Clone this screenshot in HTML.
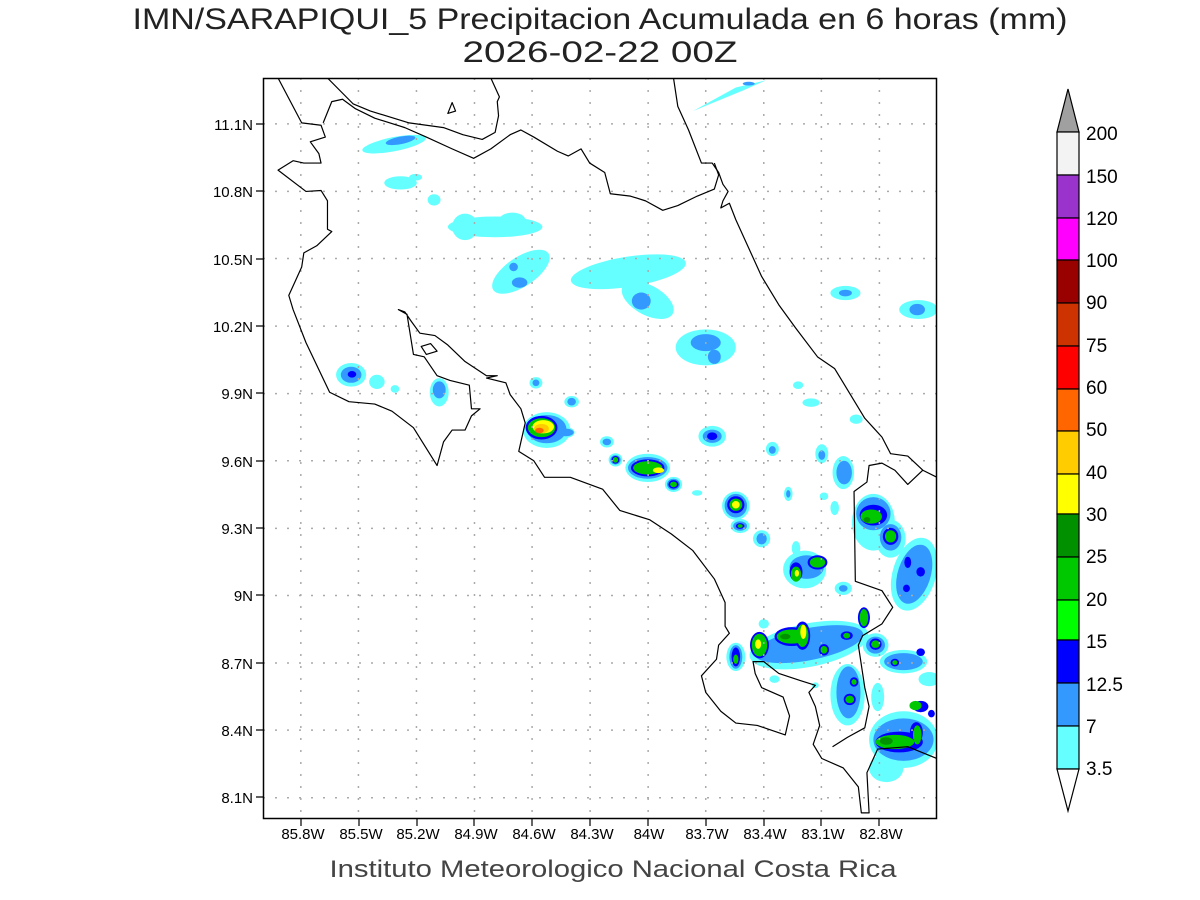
<!DOCTYPE html>
<html><head><meta charset="utf-8"><style>html,body{margin:0;padding:0;background:#fff}svg{display:block}</style></head>
<body>
<svg width="1200" height="900" xmlns="http://www.w3.org/2000/svg" font-family="Liberation Sans, sans-serif">
<rect width="1200" height="900" fill="#fff"/>
<text x="600" y="29" font-size="30" text-anchor="middle" fill="#222" textLength="935" lengthAdjust="spacingAndGlyphs">IMN/SARAPIQUI_5 Precipitacion Acumulada en 6 horas (mm)</text>
<text x="600" y="62" font-size="30" text-anchor="middle" fill="#222" textLength="275" lengthAdjust="spacingAndGlyphs">2026-02-22 00Z</text>
<text x="613" y="877" font-size="24" text-anchor="middle" fill="#444" textLength="567" lengthAdjust="spacingAndGlyphs">Instituto Meteorologico Nacional Costa Rica</text>

<svg x="263" y="78" width="674" height="741" viewBox="0 0 1568 1568" preserveAspectRatio="none">
<g>
<g fill="#66ffff">
<polygon points="1000,70 1100,20 1170,5 1120,25 1040,55"/>
<ellipse cx="305" cy="140" rx="75" ry="15" transform="rotate(-10 305 140)"/>
<ellipse cx="320" cy="222" rx="38" ry="14"/><ellipse cx="355" cy="210" rx="15" ry="7"/>
<ellipse cx="398" cy="258" rx="15" ry="12"/>
<ellipse cx="540" cy="315" rx="110" ry="22"/><ellipse cx="470" cy="315" rx="30" ry="28"/><ellipse cx="580" cy="300" rx="30" ry="15"/>
<ellipse cx="600" cy="410" rx="75" ry="32" transform="rotate(-30 600 410)"/>
<ellipse cx="850" cy="410" rx="135" ry="32" transform="rotate(-8 850 410)"/><ellipse cx="895" cy="470" rx="65" ry="32" transform="rotate(25 895 470)"/>
<ellipse cx="1030" cy="570" rx="70" ry="38"/>
<ellipse cx="1355" cy="455" rx="35" ry="15"/>
<ellipse cx="1525" cy="490" rx="45" ry="20"/>
<ellipse cx="205" cy="628" rx="35" ry="25"/><ellipse cx="265" cy="643" rx="18" ry="15"/><ellipse cx="307" cy="658" rx="10" ry="8"/>
<ellipse cx="410" cy="665" rx="22" ry="30"/>
<ellipse cx="635" cy="645" rx="15" ry="12"/><ellipse cx="718" cy="685" rx="17" ry="12"/>
<ellipse cx="660" cy="745" rx="55" ry="38"/><ellipse cx="700" cy="750" rx="25" ry="12"/>
<ellipse cx="800" cy="770" rx="16" ry="12"/><ellipse cx="820" cy="808" rx="16" ry="14"/>
<ellipse cx="895" cy="825" rx="52" ry="30"/><ellipse cx="955" cy="860" rx="20" ry="16"/>
<ellipse cx="1010" cy="878" rx="12" ry="6"/>
<ellipse cx="1045" cy="758" rx="32" ry="22"/>
<ellipse cx="1100" cy="905" rx="32" ry="30"/><ellipse cx="1110" cy="948" rx="22" ry="15"/><ellipse cx="1160" cy="975" rx="20" ry="18"/>
<ellipse cx="1185" cy="785" rx="15" ry="15"/><ellipse cx="1245" cy="650" rx="12" ry="8"/><ellipse cx="1275" cy="687" rx="20" ry="9"/>
<ellipse cx="1300" cy="795" rx="15" ry="20"/><ellipse cx="1350" cy="835" rx="25" ry="35"/>
<ellipse cx="1222" cy="880" rx="10" ry="15"/><ellipse cx="1330" cy="910" rx="10" ry="15"/><ellipse cx="1305" cy="885" rx="10" ry="8"/>
<ellipse cx="1380" cy="722" rx="15" ry="10"/><ellipse cx="1240" cy="995" rx="10" ry="15"/>
<ellipse cx="1260" cy="1040" rx="50" ry="40"/>
<ellipse cx="1420" cy="940" rx="50" ry="60"/><ellipse cx="1460" cy="975" rx="35" ry="40"/>
<ellipse cx="1515" cy="1050" rx="50" ry="80" transform="rotate(20 1515 1050)"/>
<ellipse cx="1350" cy="1080" rx="20" ry="14"/>
<ellipse cx="1270" cy="1200" rx="140" ry="46" transform="rotate(-10 1270 1200)"/>
<ellipse cx="1100" cy="1225" rx="22" ry="30"/><ellipse cx="1165" cy="1155" rx="12" ry="10"/>
<ellipse cx="1425" cy="1200" rx="30" ry="25"/>
<ellipse cx="1360" cy="1305" rx="40" ry="65"/>
<ellipse cx="1190" cy="1272" rx="12" ry="8"/><ellipse cx="1285" cy="1285" rx="8" ry="6"/>
<ellipse cx="1430" cy="1310" rx="15" ry="30"/>
<ellipse cx="1490" cy="1235" rx="55" ry="25"/><ellipse cx="1550" cy="1272" rx="25" ry="15"/>
<ellipse cx="1490" cy="1400" rx="80" ry="60"/><ellipse cx="1450" cy="1460" rx="40" ry="30"/>
</g>
<g fill="#3399ff">
<ellipse cx="1130" cy="12" rx="14" ry="4"/>
<ellipse cx="320" cy="132" rx="35" ry="8" transform="rotate(-10 320 132)"/>
<ellipse cx="583" cy="400" rx="10" ry="9"/><ellipse cx="597" cy="433" rx="18" ry="11"/>
<ellipse cx="880" cy="472" rx="22" ry="18"/>
<ellipse cx="1030" cy="560" rx="35" ry="18"/><ellipse cx="1050" cy="590" rx="15" ry="15"/>
<ellipse cx="1355" cy="455" rx="15" ry="7"/><ellipse cx="1522" cy="490" rx="18" ry="12"/>
<ellipse cx="205" cy="628" rx="24" ry="17"/><ellipse cx="410" cy="660" rx="15" ry="18"/>
<ellipse cx="635" cy="645" rx="8" ry="7"/><ellipse cx="718" cy="685" rx="10" ry="8"/>
<ellipse cx="660" cy="743" rx="46" ry="30"/><ellipse cx="705" cy="750" rx="18" ry="8"/>
<ellipse cx="800" cy="770" rx="10" ry="7"/><ellipse cx="820" cy="808" rx="12" ry="10"/>
<ellipse cx="895" cy="825" rx="46" ry="23"/><ellipse cx="955" cy="860" rx="15" ry="12"/>
<ellipse cx="1045" cy="758" rx="22" ry="14"/>
<ellipse cx="1100" cy="905" rx="26" ry="25"/><ellipse cx="1110" cy="948" rx="16" ry="10"/><ellipse cx="1160" cy="975" rx="12" ry="12"/>
<ellipse cx="1185" cy="787" rx="8" ry="8"/><ellipse cx="1300" cy="798" rx="8" ry="10"/><ellipse cx="1352" cy="835" rx="18" ry="25"/>
<ellipse cx="1222" cy="880" rx="5" ry="8"/>
<ellipse cx="1265" cy="1035" rx="40" ry="25"/>
<ellipse cx="1420" cy="922" rx="40" ry="35"/><ellipse cx="1460" cy="972" rx="25" ry="28"/>
<ellipse cx="1515" cy="1050" rx="38" ry="65" transform="rotate(20 1515 1050)"/>
<ellipse cx="1350" cy="1080" rx="10" ry="7"/>
<ellipse cx="1270" cy="1198" rx="128" ry="34" transform="rotate(-10 1270 1198)"/>
<ellipse cx="1100" cy="1225" rx="15" ry="25"/>
<ellipse cx="1425" cy="1200" rx="22" ry="18"/>
<ellipse cx="1362" cy="1300" rx="28" ry="55"/>
<ellipse cx="1490" cy="1235" rx="45" ry="18"/>
<ellipse cx="1490" cy="1400" rx="70" ry="45"/>
</g>
<g fill="#0000ff">
<ellipse cx="207" cy="627" rx="10" ry="7"/>
<ellipse cx="648" cy="740" rx="37" ry="25"/>
<ellipse cx="820" cy="808" rx="9" ry="8"/>
<ellipse cx="895" cy="825" rx="39" ry="18"/><ellipse cx="955" cy="860" rx="12" ry="9"/>
<ellipse cx="1045" cy="758" rx="12" ry="8"/>
<ellipse cx="1100" cy="903" rx="20" ry="18"/><ellipse cx="1110" cy="948" rx="10" ry="6"/>
<ellipse cx="1240" cy="1045" rx="15" ry="20"/><ellipse cx="1290" cy="1025" rx="23" ry="15"/>
<ellipse cx="1420" cy="925" rx="32" ry="22"/><ellipse cx="1460" cy="970" rx="18" ry="18"/>
<ellipse cx="1500" cy="1025" rx="8" ry="12"/><ellipse cx="1530" cy="1045" rx="10" ry="10"/><ellipse cx="1497" cy="1080" rx="8" ry="8"/>
<ellipse cx="1155" cy="1200" rx="22" ry="28"/><ellipse cx="1230" cy="1182" rx="40" ry="20"/><ellipse cx="1255" cy="1180" rx="18" ry="30"/>
<ellipse cx="1305" cy="1210" rx="12" ry="12"/><ellipse cx="1358" cy="1180" rx="14" ry="9"/><ellipse cx="1398" cy="1142" rx="14" ry="22"/>
<ellipse cx="1100" cy="1225" rx="10" ry="20"/><ellipse cx="1425" cy="1198" rx="14" ry="12"/>
<ellipse cx="1375" cy="1278" rx="10" ry="10"/><ellipse cx="1365" cy="1315" rx="14" ry="12"/>
<ellipse cx="1470" cy="1237" rx="10" ry="8"/><ellipse cx="1530" cy="1215" rx="10" ry="8"/>
<ellipse cx="1480" cy="1405" rx="55" ry="22"/><ellipse cx="1520" cy="1385" rx="15" ry="22"/><ellipse cx="1530" cy="1330" rx="18" ry="12"/><ellipse cx="1555" cy="1345" rx="8" ry="8"/>
</g>
<g fill="#00c800">
<ellipse cx="648" cy="740" rx="32" ry="20"/>
<ellipse cx="820" cy="808" rx="6" ry="6"/>
<ellipse cx="895" cy="825" rx="34" ry="14"/><ellipse cx="955" cy="860" rx="8" ry="6"/>
<ellipse cx="1100" cy="903" rx="15" ry="13"/><ellipse cx="1110" cy="948" rx="6" ry="4"/>
<ellipse cx="1240" cy="1050" rx="12" ry="16"/><ellipse cx="1290" cy="1025" rx="18" ry="11"/>
<ellipse cx="1415" cy="928" rx="25" ry="15"/><ellipse cx="1460" cy="970" rx="13" ry="13"/>
<ellipse cx="1155" cy="1200" rx="18" ry="24"/><ellipse cx="1230" cy="1182" rx="35" ry="15"/><ellipse cx="1255" cy="1180" rx="14" ry="24"/>
<ellipse cx="1305" cy="1210" rx="8" ry="8"/><ellipse cx="1358" cy="1180" rx="8" ry="6"/><ellipse cx="1398" cy="1142" rx="10" ry="18"/>
<ellipse cx="1100" cy="1230" rx="6" ry="10"/><ellipse cx="1425" cy="1198" rx="10" ry="8"/>
<ellipse cx="1375" cy="1278" rx="6" ry="6"/><ellipse cx="1365" cy="1315" rx="10" ry="8"/>
<ellipse cx="1470" cy="1237" rx="6" ry="5"/>
<ellipse cx="1470" cy="1405" rx="45" ry="15"/><ellipse cx="1522" cy="1390" rx="10" ry="20"/><ellipse cx="1518" cy="1328" rx="14" ry="10"/>
</g>
<g fill="#009000">
<ellipse cx="1405" cy="935" rx="8" ry="6"/><ellipse cx="1450" cy="1403" rx="15" ry="8"/><ellipse cx="1215" cy="1182" rx="12" ry="6"/>
</g>
<g fill="#ffff00">
<ellipse cx="652" cy="738" rx="25" ry="14"/>
<ellipse cx="920" cy="830" rx="13" ry="6"/>
<ellipse cx="1100" cy="903" rx="9" ry="8"/>
<ellipse cx="1242" cy="1048" rx="5" ry="7"/>
<ellipse cx="1152" cy="1198" rx="7" ry="10"/>
<ellipse cx="1257" cy="1172" rx="7" ry="15"/>
</g>
<ellipse cx="648" cy="742" rx="17" ry="10" fill="#ffcc00"/>
<ellipse cx="643" cy="746" rx="10" ry="6" fill="#ff6600"/>
</g>
<g stroke="#aaa" stroke-width="1.5" stroke-dasharray="2 10" fill="none">
<path vector-effect="non-scaling-stroke" d="M88,0V1568M222,0V1568M357,0V1568M492,0V1568M626,0V1568M761,0V1568M896,0V1568M1030,0V1568M1165,0V1568M1299,0V1568M1434,0V1568"/>
<path vector-effect="non-scaling-stroke" d="M0,97H1568M0,240H1568M0,382H1568M0,525H1568M0,668H1568M0,810H1568M0,953H1568M0,1095H1568M0,1238H1568M0,1380H1568M0,1523H1568"/>
</g>
<g stroke="#000" stroke-width="1.2" fill="none" stroke-linejoin="round">
<polyline vector-effect="non-scaling-stroke" points="35,0 90,95 135,100 145,125 110,135 130,160 135,180 95,180 70,175 35,195 100,240 135,238 150,260 150,320 160,325 125,355 95,370 90,400 75,430 60,460 70,490 100,560 155,665 200,685 260,690 300,705 350,740 405,820 420,770 440,745 470,745 485,715 505,700 485,700 480,650 435,640 405,630 375,590 350,585 335,500 315,490 330,495 345,515 365,540 400,545 430,565 470,600 520,630 545,630 520,635 565,645 575,670 600,700 610,730 600,770 595,790 630,810 655,845 715,845 790,870 830,915 900,935 950,965 1000,1000 1050,1060 1075,1110 1075,1160 1085,1175 1060,1200 1055,1230 1020,1265 1030,1300 1065,1340 1100,1365 1150,1370 1215,1390 1225,1350 1210,1310 1160,1290 1145,1260 1140,1235 1165,1235 1200,1260 1250,1275 1285,1285 1270,1300 1285,1330 1295,1370 1280,1410 1300,1440 1350,1460 1385,1500 1392,1555 1410,1555 1405,1470 1430,1420 1500,1415 1568,1440"/>
<polyline vector-effect="non-scaling-stroke" points="1325,1415 1360,1395 1400,1375 1410,1330 1400,1290 1385,1200 1395,1180 1440,1155 1465,1120 1440,1085 1378,1065 1375,875 1405,855 1410,820 1440,815 1470,830 1500,860 1535,830 1568,845"/>
<polyline vector-effect="non-scaling-stroke" points="140,95 160,50 185,45 215,65 260,85 330,105 380,125 440,150 490,170 530,150 575,120 600,110 630,125 685,155 710,165 740,150 760,180 795,200 808,245 855,250 890,260 930,280 965,270 1010,250 1050,235 1060,205 1050,180"/>
<polyline vector-effect="non-scaling-stroke" points="150,0 210,55 250,70 340,95 420,105 465,120 510,130 540,115 548,80 545,50 550,40 530,0"/>
<polyline vector-effect="non-scaling-stroke" points="955,0 965,60 990,110 1020,180 1045,180 1060,200 1070,225 1082,240 1070,260 1065,275 1085,265 1100,300 1130,360 1160,420 1200,480 1240,530 1290,590 1330,615 1360,660 1400,720 1420,740 1440,760 1460,795 1500,800 1535,830"/>
<polygon vector-effect="non-scaling-stroke" points="430,75 440,52 448,70"/>
<polygon vector-effect="non-scaling-stroke" points="368,568 390,562 405,578 380,585"/>
</g>
</svg>
<rect x="263.5" y="78.5" width="673" height="740" fill="none" stroke="#000" stroke-width="1.5"/>
<g stroke="#000" stroke-width="1.2">
<path d="M301,819v7M359,819v7M417,819v7M474,819v7M532,819v7M590,819v7M648,819v7M706,819v7M764,819v7M821,819v7M879,819v7"/>
<path d="M256,124h7M256,191h7M256,259h7M256,326h7M256,393h7M256,461h7M256,528h7M256,595h7M256,663h7M256,730h7M256,797h7"/>
</g>
<g font-size="15" text-anchor="middle">
<text x="303" y="839">85.8W</text><text x="361" y="839">85.5W</text><text x="418" y="839">85.2W</text><text x="476" y="839">84.9W</text><text x="534" y="839">84.6W</text><text x="592" y="839">84.3W</text><text x="649" y="839">84W</text><text x="707" y="839">83.7W</text><text x="765" y="839">83.4W</text><text x="823" y="839">83.1W</text><text x="881" y="839">82.8W</text>
</g>
<g font-size="15" text-anchor="end">
<text x="253" y="130">11.1N</text><text x="253" y="197">10.8N</text><text x="253" y="265">10.5N</text><text x="253" y="332">10.2N</text><text x="253" y="399">9.9N</text><text x="253" y="467">9.6N</text><text x="253" y="534">9.3N</text><text x="253" y="601">9N</text><text x="253" y="669">8.7N</text><text x="253" y="736">8.4N</text><text x="253" y="803">8.1N</text>
</g>
<g stroke="#000" stroke-width="1.2">
<polygon points="1057,132 1068,89 1079,132" fill="#a0a0a0"/>
<rect x="1057" y="132" width="22" height="43" fill="#f3f3f3"/>
<rect x="1057" y="175" width="22" height="43" fill="#9933cc"/>
<rect x="1057" y="218" width="22" height="42" fill="#ff00ff"/>
<rect x="1057" y="260" width="22" height="43" fill="#990000"/>
<rect x="1057" y="303" width="22" height="43" fill="#cc3300"/>
<rect x="1057" y="346" width="22" height="43" fill="#ff0000"/>
<rect x="1057" y="389" width="22" height="42" fill="#ff6600"/>
<rect x="1057" y="431" width="22" height="43" fill="#ffcc00"/>
<rect x="1057" y="474" width="22" height="40" fill="#ffff00"/>
<rect x="1057" y="514" width="22" height="43" fill="#009000"/>
<rect x="1057" y="557" width="22" height="43" fill="#00c800"/>
<rect x="1057" y="600" width="22" height="40" fill="#00ff00"/>
<rect x="1057" y="640" width="22" height="43" fill="#0000ff"/>
<rect x="1057" y="683" width="22" height="43" fill="#3399ff"/>
<rect x="1057" y="726" width="22" height="43" fill="#66ffff"/>
<polygon points="1057,769 1068,811 1079,769" fill="#fff"/>
</g>
<g font-size="19">
<text x="1086" y="140">200</text><text x="1086" y="183">150</text><text x="1086" y="225">120</text><text x="1086" y="267">100</text><text x="1086" y="309">90</text><text x="1086" y="352">75</text><text x="1086" y="394">60</text><text x="1086" y="436">50</text><text x="1086" y="479">40</text><text x="1086" y="521">30</text><text x="1086" y="563">25</text><text x="1086" y="606">20</text><text x="1086" y="648">15</text><text x="1086" y="691">12.5</text><text x="1086" y="733">7</text><text x="1086" y="775">3.5</text>
</g>
</svg>
</body></html>
